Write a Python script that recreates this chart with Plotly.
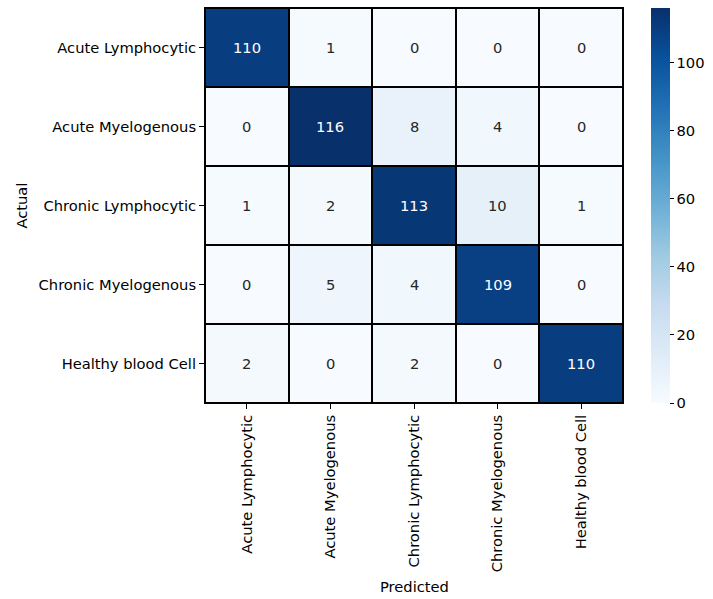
import plotly.graph_objects as go

classes = ["Acute Lymphocytic", "Acute Myelogenous", "Chronic Lymphocytic",
           "Chronic Myelogenous", "Healthy blood Cell"]

# confusion matrix: rows = actual class, columns = predicted class
row_acute_lymph = [110, 1, 0, 0, 0]
row_acute_myelo = [0, 116, 8, 4, 0]
row_chronic_lymph = [1, 2, 113, 10, 1]
row_chronic_myelo = [0, 5, 4, 109, 0]
row_healthy = [2, 0, 2, 0, 110]
matrix = [row_acute_lymph, row_acute_myelo, row_chronic_lymph,
          row_chronic_myelo, row_healthy]

colorbar_ticks = [0, 20, 40, 60, 80, 100]

vmax = max(max(r) for r in matrix)
font = "DejaVu Sans, sans-serif"
fs = 14.7

fig = go.Figure(go.Heatmap(
    z=matrix, x=classes, y=classes,
    colorscale="Blues", zmin=0, zmax=vmax,
    xgap=2, ygap=2,
    hoverinfo="skip",
    colorbar=dict(
        x=1.066, xanchor="left", xpad=0, y=0, yanchor="bottom", ypad=0,
        len=1, lenmode="fraction", thickness=19, outlinewidth=0,
        tickvals=colorbar_ticks, ticks="outside", ticklen=4, tickwidth=1,
        tickcolor="black", tickfont=dict(family=font, size=fs, color="black"),
    ),
))

# cell value labels, light text on dark cells
for i, row in enumerate(matrix):
    for j, v in enumerate(row):
        fig.add_annotation(
            x=classes[j], y=classes[i], text=str(v), showarrow=False,
            font=dict(family=font, size=fs,
                      color="white" if v > vmax * 0.5 else "#262626"),
        )

fig.add_annotation(xref="paper", yref="paper", x=-0.44, y=0.5,
                   xanchor="center", yanchor="middle",
                   text="Actual", textangle=-90, showarrow=False,
                   font=dict(family=font, size=fs, color="black"))
fig.add_annotation(xref="paper", yref="paper", x=0.5, y=-0.465,
                   xanchor="center", yanchor="middle",
                   text="Predicted", showarrow=False,
                   font=dict(family=font, size=fs, color="black"))

axis_common = dict(
    showgrid=False, zeroline=False, showline=True, linecolor="black",
    linewidth=1, mirror=True, ticks="outside", ticklen=5, tickwidth=1,
    tickcolor="black", tickfont=dict(family=font, size=fs, color="black"),
)
fig.update_xaxes(tickangle=-90, **axis_common)
fig.update_yaxes(autorange="reversed", **axis_common)

fig.update_layout(
    width=713, height=599,
    margin=dict(l=205, r=85, t=8, b=196),
    plot_bgcolor="black", paper_bgcolor="white",
    font=dict(family=font, size=fs, color="black"),
)

fig.write_html("out.html")
